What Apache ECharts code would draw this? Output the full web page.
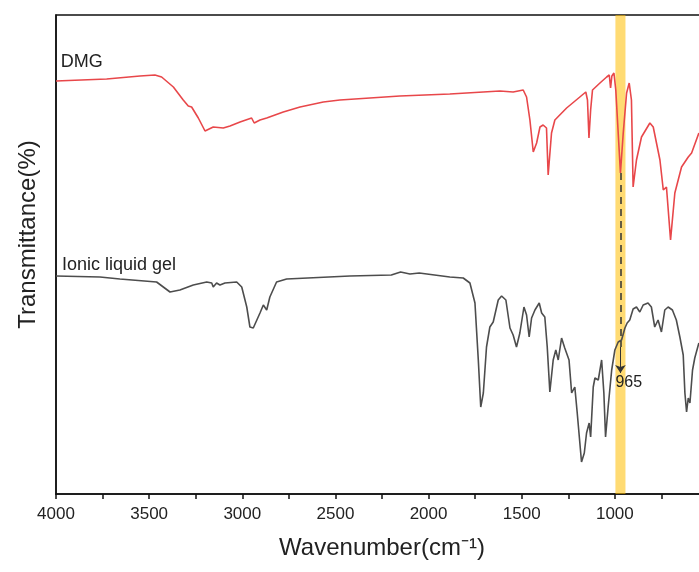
<!DOCTYPE html>
<html>
<head>
<meta charset="utf-8">
<script src="https://cdn.jsdelivr.net/npm/echarts@6/dist/echarts.min.js"></script>
<style>html,body{margin:0;padding:0;background:#fff}#c{width:699px;height:572px}</style>
</head>
<body>
<div id="c"></div>
<script>
// Wavenumber (cm-1) and relative transmittance (arbitrary units)
const dmgWavenumber = [4000,3728,3549,3469,3433,3370,3317,3290,3272,3236,3200,3156,3102,3066,3012,2950,2936,2905,2869,2780,2690,2565,2476,2154,1886,1617,1546,1492,1474,1456,1438,1420,1402,1385,1367,1358,1340,1322,1259,1188,1156,1147,1139,1130,1120,1080,1044,1030,1023,1016,1005,995,970,955,937,923,911,902,884,857,812,794,758,740,723,701,678,642,606,588,549];
const dmgT = [413,415,418,419,417,407,394,388,387,376,363,367,366,368,372,376,371,374,376,382,387,392,394,398,400,403,402,404,397,374,342,351,367,369,366,319,361,374,386,397,402,394,356,384,404,411,417,419,406,418,421,404,321,361,401,411,394,307,334,357,371,367,334,304,307,254,301,327,337,341,361];

const gelWavenumber = [4000,3764,3657,3460,3424,3388,3335,3263,3191,3164,3156,3138,3120,3093,3030,3003,2976,2959,2941,2905,2887,2869,2852,2816,2762,2422,2200,2150,2100,2050,1886,1814,1778,1751,1733,1720,1706,1689,1671,1653,1626,1608,1585,1563,1546,1528,1510,1488,1474,1460,1447,1429,1406,1393,1376,1363,1349,1331,1317,1304,1286,1269,1246,1232,1215,1202,1179,1164,1152,1138,1130,1116,1107,1089,1071,1059,1050,1036,1017,1000,982,964,946,934,920,902,884,866,848,822,804,786,768,750,732,714,691,670,651,633,624,615,606,597,583,571,549];
const gelT = [218,217,215,212,207,202,204,209,212,211,207,211,209,211,212,207,187,167,166,181,189,184,197,212,215,218,219,222,220,221,217,216,211,191,134,87,101,147,167,172,194,198,194,166,159,147,161,187,179,157,176,184,191,181,177,147,102,134,144,134,156,146,134,101,107,81,32,41,61,71,57,107,116,114,134,101,57,87,124,144,152,154,166,171,174,185,187,182,189,191,187,167,174,162,184,187,184,174,157,139,101,82,96,91,124,136,151];

const xTicks = [4000,3500,3000,2500,2000,1500,1000];
const bandRange = [997, 943];
const peakWavenumber = 970;
const peakLabel = '965';
const seriesNames = ['DMG', 'Ionic liquid gel'];

const zip = (a, b) => a.map((v, i) => [v, b[i]]);
const font = 'Liberation Sans, Arial, Helvetica, sans-serif';

const chart = echarts.init(document.getElementById('c'));
chart.setOption({
  animation: false,
  backgroundColor: '#fff',
  grid: {
    left: 56, top: 15, height: 479, width: 652,
    outerBoundsMode: 'none', containLabel: false,
    show: true, borderColor: '#111', borderWidth: 1.5, backgroundColor: 'transparent'
  },
  xAxis: {
    type: 'value', inverse: true, min: 500, max: 4000, interval: 250,
    name: 'Wavenumber(cm\u207B\u00B9)', nameLocation: 'middle', nameGap: 42,
    nameTextStyle: { fontFamily: font, fontSize: 24, color: '#222' },
    axisLine: { show: true, onZero: false, lineStyle: { color: '#111', width: 1.5 } },
    axisTick: { show: true, length: 5, lineStyle: { color: '#111', width: 1.5 } },
    axisLabel: {
      fontFamily: font, fontSize: 17, color: '#222', margin: 12,
      formatter: v => xTicks.includes(v) ? String(v) : ''
    },
    splitLine: { show: false }
  },
  yAxis: {
    type: 'value', min: 0, max: 479,
    name: 'Transmittance(%)', nameLocation: 'middle', nameGap: 16,
    nameTextStyle: { fontFamily: font, fontSize: 24, color: '#222', padding: [0, 0, 0, 40] },
    axisLine: { show: true, lineStyle: { color: '#111', width: 1.5 } },
    axisTick: { show: false }, axisLabel: { show: false }, splitLine: { show: false }
  },
  series: [
    {
      name: seriesNames[0], type: 'line', data: zip(dmgWavenumber, dmgT),
      showSymbol: false, symbol: 'none', z: 2,
      lineStyle: { color: '#E8474A', width: 1.6 },
      markLine: {
        silent: true, symbol: ['none', 'none'],
        lineStyle: { color: '#333', width: 1.5, type: [7, 5] },
        label: { show: false },
        data: [[{ coord: [peakWavenumber, 321] }, { coord: [peakWavenumber, 147] }]]
      },
      markPoint: {
        silent: true, symbol: 'circle', symbolSize: 0,
        label: { show: true, position: 'inside', align: 'left', formatter: seriesNames[0], fontFamily: font, fontSize: 18, color: '#222' },
        data: [{ coord: [3975, 432] }]
      }
    },
    {
      name: seriesNames[1], type: 'line', data: zip(gelWavenumber, gelT),
      showSymbol: false, symbol: 'none', z: 2,
      lineStyle: { color: '#4D4D4D', width: 1.6 },
      markLine: {
        silent: true, symbol: ['none', 'arrow'], symbolSize: 8,
        lineStyle: { color: '#333', width: 1, type: 'solid' },
        label: { show: false },
        data: [[{ coord: [peakWavenumber, 147] }, { coord: [peakWavenumber, 121] }]]
      },
      markPoint: {
        silent: true, symbol: 'circle', symbolSize: 0,
        label: { show: true, position: 'inside', align: 'left', formatter: p => p.data.text, fontFamily: font, fontSize: 18, color: '#222' },
        data: [
          { coord: [3968, 229], text: seriesNames[1] },
          { coord: [bandRange[0], 111], text: peakLabel, label: { fontSize: 16 } }
        ]
      }
    },
    {
      name: 'band', type: 'line', data: [], z: 10,
      markArea: {
        silent: true,
        itemStyle: { color: 'rgba(255,190,0,0.55)' },
        data: [[{ xAxis: bandRange[0] }, { xAxis: bandRange[1] }]]
      }
    }
  ]
});
</script>
</body>
</html>
